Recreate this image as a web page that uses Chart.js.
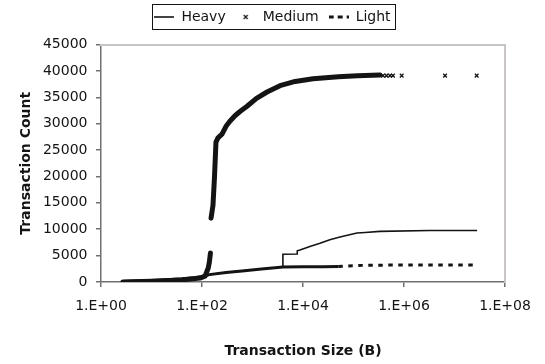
<!DOCTYPE html>
<html>
<head>
<meta charset="utf-8">
<script src="https://cdn.jsdelivr.net/npm/chart.js@4.4.0/dist/chart.umd.min.js"></script>
<style>
  html, body { margin: 0; padding: 0; background: #fff; }
</style>
</head>
<body>
<canvas id="chart" width="545" height="364"></canvas>
<script>
// values (size in bytes, cumulative count)
const heavySize = [2.7, 5, 10, 20, 40, 70, 100, 140, 300, 700, 1500, 2800, 4000, 4000, 7700, 7700, 8700, 13700, 21700, 34000, 54000, 117000, 170000, 334000, 3300000, 28000000];
const heavyCount = [100, 200, 300, 450, 600, 800, 1000, 1400, 1800, 2150, 2450, 2700, 2850, 5250, 5300, 5900, 6060, 6740, 7330, 8000, 8530, 9290, 9380, 9600, 9750, 9750];

const mediumSize = [2.7, 10, 40, 91, 115, 133, 140, 147, 149, 151, 165, 177, 189, 207, 249, 299, 360, 450, 565, 780, 1200, 1940, 3500, 7000, 15800, 50000, 120000, 334000];
const mediumCount = [0, 150, 400, 750, 1100, 2650, 3800, 5500, null, 12100, 14500, 20000, 26500, 27300, 28000, 29500, 30500, 31500, 32300, 33300, 34800, 36000, 37200, 38000, 38500, 38900, 39100, 39200];

// sparse "x" markers at the end of the medium series
const mediumTailSize = [384000, 450000, 528000, 605000, 900000, 6500000, 27500000];
const mediumTailCount = [39100, 39100, 39100, 39100, 39100, 39100, 39100];

const lightSize = [2.7, 5, 10, 20, 40, 70, 100, 140, 300, 700, 1500, 2800, 4000, 10000, 25000, 50000, 80000, 150000, 500000, 2000000, 28000000];
const lightCount = [100, 200, 300, 450, 600, 800, 1000, 1400, 1800, 2150, 2450, 2700, 2850, 2880, 2900, 2920, 3050, 3150, 3200, 3200, 3200];
const lightDashFrom = 50000;

const xTickValues = [1, 1e2, 1e4, 1e6, 1e8];
const xTickLabels = ['1.E+00', '1.E+02', '1.E+04', '1.E+06', '1.E+08'];

const ink = '#141414';
const axisColor = '#707070';
const frameColor = '#c9c5c5';
const tickFont = { family: 'DejaVu Sans', size: 14 };
const titleFont = { family: 'DejaVu Sans', size: 14, weight: 'bold' };

function pts(xs, ys) {
  return xs.map((x, i) => ({ x: x, y: ys[i] }));
}

// small pictures for the legend samples
function sample(draw) {
  const c = document.createElement('canvas');
  c.width = 20;
  c.height = 8;
  const g = c.getContext('2d');
  g.strokeStyle = ink;
  g.beginPath();
  draw(g);
  g.stroke();
  return c;
}
const heavyIcon = sample(g => { g.lineWidth = 1.6; g.moveTo(0, 4); g.lineTo(20, 4); });
const mediumIcon = sample(g => { g.lineWidth = 1.2; g.moveTo(8, 2); g.lineTo(12, 6); g.moveTo(12, 2); g.lineTo(8, 6); });
const lightIcon = sample(g => { g.lineWidth = 3; g.setLineDash([5, 4]); g.moveTo(0, 4); g.lineTo(20, 4); });

const legendFrame = {
  id: 'legendFrame',
  afterDraw(chart) {
    const boxes = chart.legend.legendHitBoxes;
    if (!boxes || !boxes.length) return;
    const first = boxes[0], last = boxes[boxes.length - 1];
    const ctx = chart.ctx;
    const l = Math.round(first.left) - 1.5;
    const r = Math.round(last.left + last.width) + 4.5;
    const t = Math.round(first.top) - 5.5;
    const b = Math.round(first.top + first.height) + 5.5;
    ctx.save();
    ctx.strokeStyle = ink;
    ctx.lineWidth = 1;
    ctx.strokeRect(l, t, r - l, b - t);
    ctx.restore();
  }
};

new Chart(document.getElementById('chart'), {
  type: 'scatter',
  data: {
    datasets: [
      {
        label: 'Heavy',
        data: pts(heavySize, heavyCount),
        showLine: true,
        borderColor: ink,
        borderWidth: 1.6,
        pointRadius: 0,
        tension: 0
      },
      {
        label: 'Medium',
        data: pts(mediumSize, mediumCount),
        showLine: true,
        spanGaps: false,
        borderColor: ink,
        borderWidth: 5,
        borderJoinStyle: 'round',
        borderCapStyle: 'round',
        pointRadius: 0,
        tension: 0
      },
      {
        label: 'Medium tail',
        data: pts(mediumTailSize, mediumTailCount),
        showLine: false,
        pointStyle: 'crossRot',
        pointRadius: 2.6,
        pointBorderWidth: 1.3,
        pointBorderColor: ink,
        pointBackgroundColor: ink
      },
      {
        label: 'Light',
        data: pts(lightSize, lightCount),
        showLine: true,
        borderColor: ink,
        borderWidth: 3,
        pointRadius: 0,
        tension: 0,
        segment: {
          borderDash: c => lightSize[c.p0DataIndex] >= lightDashFrom ? [4.5, 5.5] : undefined
        }
      }
    ]
  },
  options: {
    responsive: false,
    animation: false,
    layout: { padding: 0 },
    plugins: {
      tooltip: { enabled: false },
      legend: {
        position: 'top',
        labels: {
          color: ink,
          font: tickFont,
          usePointStyle: true,
          pointStyleWidth: 20,
          boxHeight: 8,
          padding: 10,
          generateLabels: () => [
            { text: 'Heavy', pointStyle: heavyIcon, fontColor: ink, datasetIndex: 0, hidden: false },
            { text: 'Medium', pointStyle: mediumIcon, fontColor: ink, datasetIndex: 1, hidden: false },
            { text: 'Light', pointStyle: lightIcon, fontColor: ink, datasetIndex: 3, hidden: false }
          ]
        }
      }
    },
    scales: {
      x: {
        type: 'logarithmic',
        position: 'bottom',
        min: 1,
        max: 1e8,
        afterBuildTicks: s => { s.ticks = xTickValues.map(v => ({ value: v })); },
        afterFit: s => { s.height = 82; },
        grid: { display: true, drawOnChartArea: false, drawTicks: true, tickLength: 5, color: axisColor, lineWidth: 1.5 },
        border: { display: true, color: axisColor, width: 1.5 },
        ticks: {
          color: ink,
          font: tickFont,
          padding: 11,
          maxRotation: 0,
          autoSkip: false,
          callback: v => xTickLabels[xTickValues.indexOf(v)] || ''
        },
        title: { display: true, text: 'Transaction Size (B)', color: ink, font: titleFont, padding: { top: 0, bottom: 4 } }
      },
      y: {
        min: 0,
        max: 45000,
        afterFit: s => { s.width = 101; },
        grid: { display: true, drawOnChartArea: false, drawTicks: true, tickLength: 5, color: axisColor, lineWidth: 1.5 },
        border: { display: true, color: axisColor, width: 1.5 },
        ticks: { stepSize: 5000, color: ink, font: tickFont, padding: 8.5, callback: v => String(v) },
        title: { display: true, text: 'Transaction Count', color: ink, font: titleFont, padding: { top: 18, bottom: 0 } }
      },
      x2: {
        type: 'linear',
        position: 'top',
        min: 0,
        max: 1,
        afterFit: s => { s.height = 10.5; },
        ticks: { display: false },
        grid: { display: false },
        border: { display: true, color: frameColor, width: 2 }
      },
      y2: {
        type: 'linear',
        position: 'right',
        min: 0,
        max: 1,
        afterFit: s => { s.width = 40; },
        ticks: { display: false },
        grid: { display: false },
        border: { display: true, color: frameColor, width: 2 }
      }
    }
  },
  plugins: [legendFrame]
});
</script>
</body>
</html>
